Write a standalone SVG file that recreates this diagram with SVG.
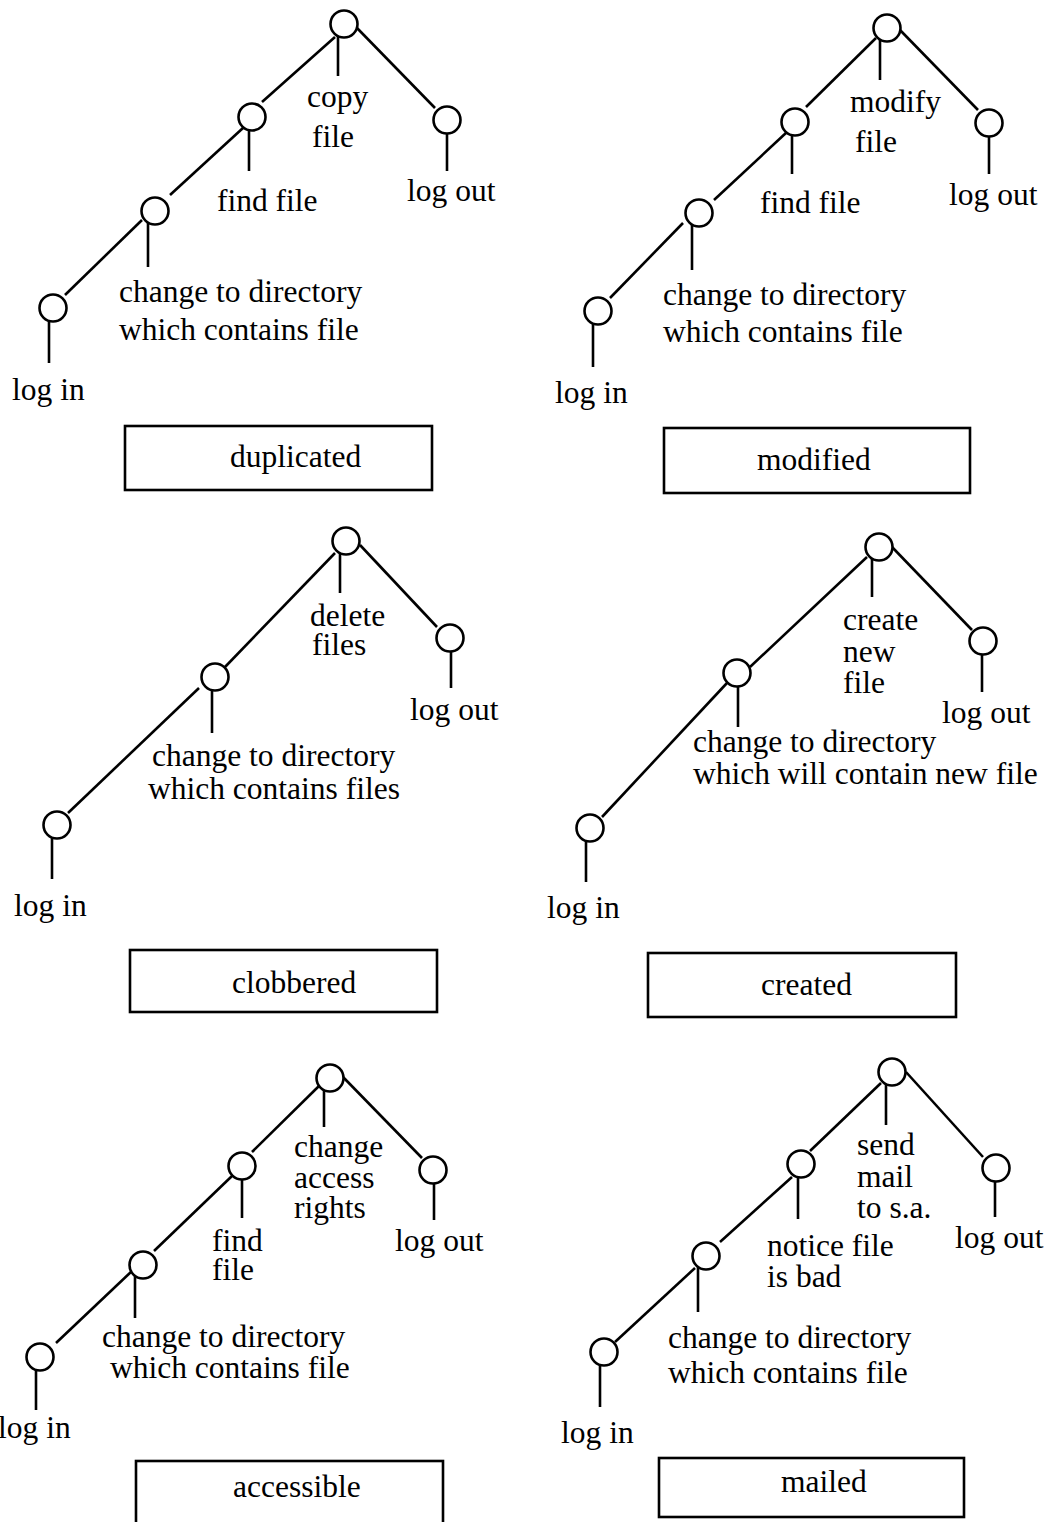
<svg xmlns="http://www.w3.org/2000/svg" width="1054" height="1522" viewBox="0 0 1054 1522">
<style>
.ln{stroke:#000;stroke-width:2.6;fill:none}
.nd{fill:#fff;stroke:#000;stroke-width:2.6}
.bx{fill:#fff;stroke:#000;stroke-width:2.6}
text{font-family:"Liberation Serif","Times New Roman",serif;font-size:31.5px;fill:#000}
</style>
<rect x="0" y="0" width="1054" height="1522" fill="#fff"/>
<g id="connectors" class="ln">
<line x1="357" y1="28" x2="435" y2="108"/>
<line x1="335" y1="37" x2="262" y2="102"/>
<line x1="243" y1="128" x2="170" y2="195"/>
<line x1="142" y1="220" x2="65" y2="295"/>
<line x1="900" y1="30" x2="978" y2="110"/>
<line x1="876" y1="38" x2="806" y2="107"/>
<line x1="787" y1="132" x2="714" y2="200"/>
<line x1="683" y1="223" x2="610" y2="298"/>
<line x1="360" y1="545" x2="437" y2="627"/>
<line x1="335" y1="553" x2="225" y2="667"/>
<line x1="199" y1="688" x2="68" y2="813"/>
<line x1="892" y1="547" x2="972" y2="630"/>
<line x1="867" y1="557" x2="750" y2="667"/>
<line x1="727" y1="683" x2="602" y2="817"/>
<line x1="343" y1="1077" x2="422" y2="1158"/>
<line x1="320" y1="1085" x2="252" y2="1152"/>
<line x1="232" y1="1176" x2="154" y2="1251"/>
<line x1="133" y1="1270" x2="56" y2="1343"/>
<line x1="906" y1="1072" x2="983" y2="1157"/>
<line x1="881" y1="1083" x2="810" y2="1151"/>
<line x1="792" y1="1177" x2="720" y2="1242"/>
<line x1="695" y1="1268" x2="615" y2="1342"/>
</g>
<!-- Tree 1: duplicated -->
<g id="t1-root"><line class="ln" x1="338" y1="36" x2="338" y2="76"/><circle class="nd" cx="344" cy="24" r="13.5"/><text x="307" y="107">copy</text><text x="312" y="147">file</text></g>
<g id="t1-logout"><line class="ln" x1="447" y1="132" x2="447" y2="171"/><circle class="nd" cx="447" cy="120" r="13.5"/><text x="407" y="201">log out</text></g>
<g id="t1-find"><line class="ln" x1="249" y1="128" x2="249" y2="171"/><circle class="nd" cx="252" cy="117" r="13.5"/><text x="217" y="211">find file</text></g>
<g id="t1-change"><line class="ln" x1="148" y1="222" x2="148" y2="267"/><circle class="nd" cx="155" cy="211" r="13.5"/><text x="119" y="302">change to directory</text><text x="119" y="340">which contains file</text></g>
<g id="t1-login"><line class="ln" x1="49" y1="320" x2="49" y2="363"/><circle class="nd" cx="53" cy="308" r="13.5"/><text x="12" y="400">log in</text></g>
<g id="t1-box"><rect class="bx" x="125" y="426" width="307" height="64"/><text x="230" y="467">duplicated</text></g>
<!-- Tree 2: modified -->
<g id="t2-root"><line class="ln" x1="880" y1="39" x2="880" y2="80"/><circle class="nd" cx="887" cy="28" r="13.5"/><text x="850" y="112">modify</text><text x="855" y="152">file</text></g>
<g id="t2-logout"><line class="ln" x1="989" y1="135" x2="989" y2="174"/><circle class="nd" cx="989" cy="123" r="13.5"/><text x="949" y="205">log out</text></g>
<g id="t2-find"><line class="ln" x1="792" y1="134" x2="792" y2="174"/><circle class="nd" cx="795" cy="122" r="13.5"/><text x="760" y="213">find file</text></g>
<g id="t2-change"><line class="ln" x1="692" y1="224" x2="692" y2="270"/><circle class="nd" cx="699" cy="213" r="13.5"/><text x="663" y="305">change to directory</text><text x="663" y="342">which contains file</text></g>
<g id="t2-login"><line class="ln" x1="593" y1="323" x2="593" y2="367"/><circle class="nd" cx="598" cy="311" r="13.5"/><text x="555" y="403">log in</text></g>
<g id="t2-box"><rect class="bx" x="664" y="428" width="306" height="65"/><text x="757" y="470">modified</text></g>
<!-- Tree 3: clobbered -->
<g id="t3-root"><line class="ln" x1="340" y1="553" x2="340" y2="593"/><circle class="nd" cx="346" cy="541" r="13.5"/><text x="310" y="626">delete</text><text x="312" y="655">files</text></g>
<g id="t3-logout"><line class="ln" x1="451" y1="650" x2="451" y2="688"/><circle class="nd" cx="450" cy="638" r="13.5"/><text x="410" y="720">log out</text></g>
<g id="t3-change"><line class="ln" x1="212" y1="688" x2="212" y2="733"/><circle class="nd" cx="215" cy="677" r="13.5"/><text x="152" y="766">change to directory</text><text x="148" y="799">which contains files</text></g>
<g id="t3-login"><line class="ln" x1="52" y1="837" x2="52" y2="879"/><circle class="nd" cx="57" cy="825" r="13.5"/><text x="14" y="916">log in</text></g>
<g id="t3-box"><rect class="bx" x="130" y="950" width="307" height="62"/><text x="232" y="993">clobbered</text></g>
<!-- Tree 4: created -->
<g id="t4-root"><line class="ln" x1="872" y1="558" x2="872" y2="597"/><circle class="nd" cx="879" cy="547" r="13.5"/><text x="843" y="630">create</text><text x="843" y="662">new</text><text x="843" y="693">file</text></g>
<g id="t4-logout"><line class="ln" x1="982" y1="653" x2="982" y2="692"/><circle class="nd" cx="983" cy="641" r="13.5"/><text x="942" y="723">log out</text></g>
<g id="t4-change"><line class="ln" x1="738" y1="685" x2="738" y2="727"/><circle class="nd" cx="737" cy="673" r="13.5"/><text x="693" y="752">change to directory</text><text x="693" y="784">which will contain new file</text></g>
<g id="t4-login"><line class="ln" x1="586" y1="840" x2="586" y2="882"/><circle class="nd" cx="590" cy="828" r="13.5"/><text x="547" y="918">log in</text></g>
<g id="t4-box"><rect class="bx" x="648" y="953" width="308" height="64"/><text x="761" y="995">created</text></g>
<!-- Tree 5: accessible -->
<g id="t5-root"><line class="ln" x1="324" y1="1089" x2="324" y2="1127"/><circle class="nd" cx="330" cy="1078" r="13.5"/><text x="294" y="1157">change</text><text x="294" y="1188">access</text><text x="294" y="1218">rights</text></g>
<g id="t5-logout"><line class="ln" x1="434" y1="1182" x2="434" y2="1220"/><circle class="nd" cx="433" cy="1170" r="13.5"/><text x="395" y="1251">log out</text></g>
<g id="t5-find"><line class="ln" x1="242" y1="1178" x2="242" y2="1218"/><circle class="nd" cx="242" cy="1166" r="13.5"/><text x="212" y="1251">find</text><text x="212" y="1280">file</text></g>
<g id="t5-change"><line class="ln" x1="135" y1="1276" x2="135" y2="1318"/><circle class="nd" cx="143" cy="1265" r="13.5"/><text x="102" y="1347">change to directory</text><text x="110" y="1378">which contains file</text></g>
<g id="t5-login"><line class="ln" x1="36" y1="1369" x2="36" y2="1410"/><circle class="nd" cx="40" cy="1357" r="13.5"/><text x="-2" y="1438">log in</text></g>
<g id="t5-box"><rect class="bx" x="136" y="1461" width="307" height="75"/><text x="233" y="1497">accessible</text></g>
<!-- Tree 6: mailed -->
<g id="t6-root"><line class="ln" x1="886" y1="1083" x2="886" y2="1125"/><circle class="nd" cx="892" cy="1072" r="13.5"/><text x="857" y="1155">send</text><text x="857" y="1187">mail</text><text x="857" y="1218">to s.a.</text></g>
<g id="t6-logout"><line class="ln" x1="995" y1="1180" x2="995" y2="1217"/><circle class="nd" cx="996" cy="1168" r="13.5"/><text x="955" y="1248">log out</text></g>
<g id="t6-notice"><line class="ln" x1="798" y1="1176" x2="798" y2="1219"/><circle class="nd" cx="801" cy="1164" r="13.5"/><text x="767" y="1256">notice file</text><text x="767" y="1287">is bad</text></g>
<g id="t6-change"><line class="ln" x1="698" y1="1267" x2="698" y2="1312"/><circle class="nd" cx="706" cy="1256" r="13.5"/><text x="668" y="1348">change to directory</text><text x="668" y="1383">which contains file</text></g>
<g id="t6-login"><line class="ln" x1="600" y1="1364" x2="600" y2="1407"/><circle class="nd" cx="604" cy="1352" r="13.5"/><text x="561" y="1443">log in</text></g>
<g id="t6-box"><rect class="bx" x="659" y="1458" width="305" height="59"/><text x="781" y="1492">mailed</text></g>
</svg>
